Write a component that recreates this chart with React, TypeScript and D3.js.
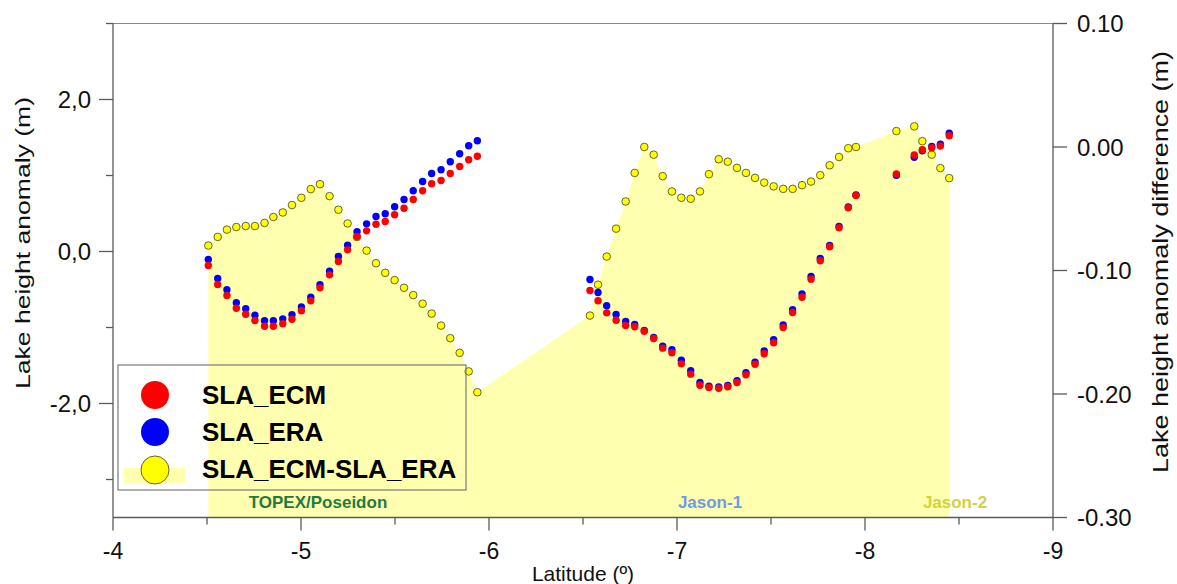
import React from "react";
import * as d3 from "d3";

// ---------- DATA ----------
// TOPEX/Poseidon
const latTP = [-4.507, -4.557, -4.606, -4.656, -4.706, -4.755, -4.806, -4.853, -4.903, -4.952, -5.002, -5.052, -5.101, -5.152, -5.199, -5.248, -5.298, -5.349, -5.399, -5.448, -5.498, -5.548, -5.597, -5.647, -5.695, -5.745, -5.794, -5.844, -5.892, -5.938];
const ecmTP = [-0.184, -0.434, -0.579, -0.746, -0.825, -0.908, -0.983, -0.983, -0.951, -0.891, -0.78, -0.649, -0.478, -0.307, -0.132, 0.022, 0.197, 0.272, 0.359, 0.395, 0.483, 0.57, 0.684, 0.799, 0.891, 0.934, 1.026, 1.118, 1.207, 1.254];
const eraTP = [-0.105, -0.355, -0.504, -0.675, -0.754, -0.838, -0.912, -0.912, -0.886, -0.833, -0.728, -0.601, -0.438, -0.259, -0.066, 0.083, 0.259, 0.364, 0.461, 0.496, 0.588, 0.684, 0.799, 0.921, 1.026, 1.075, 1.18, 1.286, 1.391, 1.457];
const difTP = [-0.0798, -0.0728, -0.0669, -0.0648, -0.064, -0.064, -0.0615, -0.0567, -0.053, -0.047, -0.0411, -0.0341, -0.0301, -0.0398, -0.0508, -0.0619, -0.0729, -0.0839, -0.0941, -0.1019, -0.1078, -0.114, -0.1199, -0.1269, -0.1349, -0.1446, -0.1548, -0.1667, -0.1817, -0.1986];

// Jason-1
const latJ1 = [-6.537, -6.58, -6.626, -6.676, -6.727, -6.775, -6.826, -6.876, -6.924, -6.973, -7.023, -7.073, -7.122, -7.17, -7.222, -7.27, -7.319, -7.367, -7.415, -7.464, -7.514, -7.565, -7.615, -7.665, -7.713, -7.762, -7.812, -7.862, -7.911, -7.952];
const ecmJ1 = [-0.513, -0.649, -0.807, -0.904, -0.974, -0.991, -1.049, -1.145, -1.272, -1.333, -1.478, -1.614, -1.759, -1.789, -1.799, -1.78, -1.724, -1.622, -1.483, -1.346, -1.201, -1.0, -0.803, -0.601, -0.364, -0.122, 0.062, 0.312, 0.575, 0.737];
const eraJ1 = [-0.368, -0.539, -0.714, -0.829, -0.921, -0.961, -1.039, -1.132, -1.246, -1.293, -1.43, -1.57, -1.724, -1.772, -1.783, -1.763, -1.701, -1.596, -1.457, -1.307, -1.162, -0.967, -0.767, -0.557, -0.329, -0.092, 0.079, 0.329, 0.586, 0.743];
const difJ1 = [-0.1365, -0.1115, -0.0887, -0.0661, -0.0441, -0.021, 0.0, -0.0062, -0.0236, -0.036, -0.0411, -0.0419, -0.036, -0.022, -0.0099, -0.0119, -0.0169, -0.021, -0.025, -0.0288, -0.0319, -0.0339, -0.0339, -0.0309, -0.028, -0.0228, -0.0148, -0.0081, -0.001, 0.0];

// Jason-2
const latJ2 = [-8.167, -8.262, -8.305, -8.355, -8.401, -8.448];
const ecmJ2 = [1.02, 1.27, 1.339, 1.366, 1.388, 1.524];
const eraJ2 = [1.004, 1.241, 1.325, 1.382, 1.412, 1.557];
const difJ2 = [0.0129, 0.0167, 0.0047, -0.0062, -0.0171, -0.0252];

const xTicks = [-4, -5, -6, -7, -8, -9];
const xMinor = [-4.5, -5.5, -6.5, -7.5, -8.5];
const yLeftTicks = [2, 0, -2];
const yLeftMinor = [3, 1, -1, -3];
const yRightTicks = [0.1, 0.0, -0.1, -0.2, -0.3];
const legendLabels = ["SLA_ECM", "SLA_ERA", "SLA_ECM-SLA_ERA"];
const missionLabels = ["TOPEX/Poseidon", "Jason-1", "Jason-2"];

// ---------- LAYOUT ----------
const W = 1177, H = 584;
const L = 113, R = 1053, T = 23.5, B = 517.5;
const FONT = "'Liberation Sans', Arial, Helvetica, sans-serif";

export default function App() {
  const x = d3.scaleLinear().domain([-4, -9]).range([L, R]);
  const yL = d3.scaleLinear().domain([-3.5, 3.0]).range([B, T]);
  const yR = d3.scaleLinear().domain([-0.3, 0.1]).range([B, T]);

  const zip = (lat: number[], v: number[]) => lat.map((la, i) => ({ lat: la, v: v[i] }));
  const ecm = [...zip(latTP, ecmTP), ...zip(latJ1, ecmJ1), ...zip(latJ2, ecmJ2)];
  const era = [...zip(latTP, eraTP), ...zip(latJ1, eraJ1), ...zip(latJ2, eraJ2)];
  const dif = [...zip(latTP, difTP), ...zip(latJ1, difJ1), ...zip(latJ2, difJ2)];

  const area = d3
    .area<{ lat: number; v: number }>()
    .x((d) => x(d.lat))
    .y0(yR(-0.3))
    .y1((d) => yR(d.v));

  const axisColor = "#5a5a5a";
  const fmtL = (v: number) => d3.format(".1f")(v).replace(".", ",").replace("−", "-");
  const fmtR = (v: number) => d3.format(".2f")(v).replace("−", "-");

  const missionX = [318, 710, 955];
  const missionColor = ["#1f7a3e", "#6e9be6", "#d2d23c"];

  return (
    <svg width={W} height={H} style={{ display: "block", position: "absolute", left: 0, top: 0 }} fontFamily={FONT}>
      <rect x={0} y={0} width={W} height={H} fill="#fff" />
      {/* area */}
      <path d={area(dif) || ""} fill="#ffffb0" stroke="none" />

      {/* frame */}
      <line x1={L} x2={R} y1={T} y2={T} stroke="#8a8a8a" strokeWidth={1.2} />
      <line x1={L} x2={R} y1={B} y2={B} stroke={axisColor} strokeWidth={1.3} />
      <line x1={L} x2={L} y1={T} y2={B} stroke={axisColor} strokeWidth={1.3} />
      <line x1={R} x2={R} y1={T} y2={B} stroke={axisColor} strokeWidth={1.3} />

      {/* x axis */}
      {xTicks.map((t) => (
        <g key={"xt" + t}>
          <line x1={x(t)} x2={x(t)} y1={B} y2={B + 13} stroke={axisColor} strokeWidth={1.3} />
          <text x={x(t)} y={559} fontSize={23} textAnchor="middle" fill="#111">
            {String(t)}
          </text>
        </g>
      ))}
      {xMinor.map((t) => (
        <line key={"xm" + t} x1={x(t)} x2={x(t)} y1={B} y2={B + 7} stroke={axisColor} strokeWidth={1.3} />
      ))}
      <text x={583} y={581} fontSize={21} textAnchor="middle" fill="#111">
        Latitude (º)
      </text>

      {/* left axis */}
      {yLeftTicks.map((t) => (
        <g key={"yl" + t}>
          <line x1={L - 14} x2={L} y1={yL(t)} y2={yL(t)} stroke={axisColor} strokeWidth={1.3} />
          <text x={91} y={yL(t) + 8.5} fontSize={24} textAnchor="end" fill="#111">
            {fmtL(t)}
          </text>
        </g>
      ))}
      {yLeftMinor.map((t) => (
        <line key={"ylm" + t} x1={L - 7} x2={L} y1={yL(t)} y2={yL(t)} stroke={axisColor} strokeWidth={1.3} />
      ))}
      <text
        transform={`translate(30,${243}) rotate(-90)`}
        fontSize={21}
        textAnchor="middle"
        textLength={292}
        lengthAdjust="spacingAndGlyphs"
        fill="#111"
      >
        Lake height anomaly (m)
      </text>

      {/* right axis */}
      {yRightTicks.map((t) => (
        <g key={"yr" + t}>
          <line x1={R} x2={R + 14} y1={yR(t)} y2={yR(t)} stroke={axisColor} strokeWidth={1.3} />
          <text x={1077} y={yR(t) + 8.5} fontSize={24} textAnchor="start" fill="#111">
            {fmtR(t)}
          </text>
        </g>
      ))}
      <text
        transform={`translate(1168,${262}) rotate(-90)`}
        fontSize={22}
        textAnchor="middle"
        textLength={422}
        lengthAdjust="spacingAndGlyphs"
        fill="#111"
      >
        Lake height anomaly difference (m)
      </text>

      {/* mission labels */}
      {missionLabels.map((m, i) => (
        <text key={m} x={missionX[i]} y={508} fontSize={17} fontWeight="bold" textAnchor="middle" fill={missionColor[i]}>
          {m}
        </text>
      ))}

      {/* points */}
      {dif.map((d, i) => (
        <circle key={"d" + i} cx={x(d.lat)} cy={yR(d.v)} r={3.8} fill="#ffff00" stroke="#66662e" strokeWidth={1} />
      ))}
      {era.map((d, i) => (
        <circle key={"b" + i} cx={x(d.lat)} cy={yL(d.v)} r={3.7} fill="#0000ff" />
      ))}
      {ecm.map((d, i) => (
        <circle key={"r" + i} cx={x(d.lat)} cy={yL(d.v)} r={3.7} fill="#ff0000" />
      ))}

      {/* legend */}
      <rect x={118} y={365} width={348} height={125} fill="none" stroke="#7a7a7a" strokeWidth={1.2} />
      <circle cx={155} cy={395} r={14} fill="#ff0000" />
      <circle cx={155} cy={432} r={14} fill="#0000ff" />
      <rect x={124} y={468} width={62} height={15} fill="#ffffb0" />
      <circle cx={155} cy={470} r={14} fill="#ffff00" stroke="#66662e" strokeWidth={1} />
      {legendLabels.map((l, i) => (
        <text key={l} x={202} y={[404, 441, 478][i]} fontSize={26} fontWeight="bold" fill="#000">
          {l}
        </text>
      ))}
    </svg>
  );
}
